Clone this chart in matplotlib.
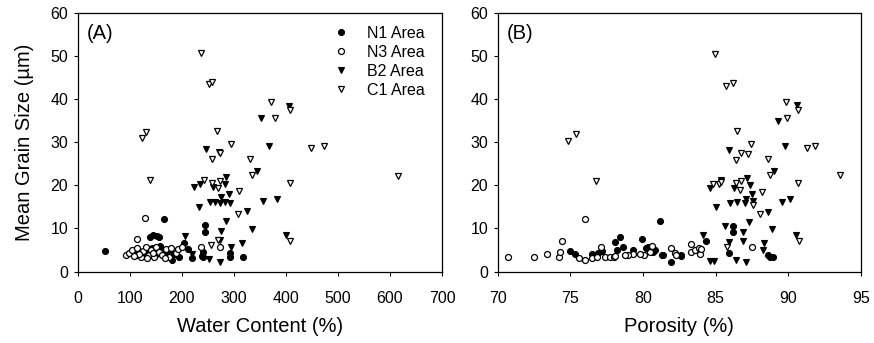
import matplotlib
matplotlib.use("Agg")
import matplotlib.pyplot as plt

plt.rcParams['font.family'] = ['Liberation Sans', 'DejaVu Sans']

# ---------------- Panel A : Water content vs mean grain size ----------------
a_n1_x = [52, 165, 138, 145, 152, 155, 125, 132, 142, 150, 158, 163, 170, 176, 185,
          195, 181, 203, 219, 240, 240, 244, 244, 292, 292, 318, 238, 212]
a_n1_y = [4.9, 12.1, 8.1, 8.5, 8.2, 8.0, 3.9, 4.6, 5.5, 4.2, 6.0, 4.5, 3.8, 5.0, 4.0,
          3.3, 2.7, 6.6, 3.1, 4.6, 3.5, 10.9, 9.2, 4.4, 3.5, 3.3, 3.7, 5.2]

a_n3_x = [92, 98, 104, 111, 114, 121, 126, 130, 137, 140, 146, 151, 156, 162, 169,
          175, 178, 188, 192, 201, 113, 128, 236, 273, 118, 133, 108, 145, 167]
a_n3_y = [3.9, 4.4, 5.0, 3.9, 5.4, 3.3, 4.9, 5.8, 3.9, 5.0, 3.5, 5.6, 4.5, 3.9, 5.2,
          3.5, 5.4, 4.4, 5.3, 5.6, 7.5, 12.4, 5.8, 5.6, 4.2, 3.1, 3.6, 4.4, 3.2]

a_b2_x = [224, 235, 283, 284, 260, 291, 276, 254, 263, 273, 283, 292, 356, 383, 233,
          326, 285, 275, 334, 401, 205, 273, 316, 252, 273, 247, 272, 352, 406, 368,
          344, 219, 294]
a_b2_y = [19.5, 20.4, 20.3, 21.9, 19.5, 18.1, 17.2, 16.2, 16.2, 15.8, 16.2, 16.0, 16.3, 16.9, 14.9,
          14.0, 11.7, 9.5, 9.8, 8.5, 8.3, 7.4, 6.6, 2.9, 2.3, 28.5, 27.7, 35.5, 38.3, 29.2,
          23.3, 4.0, 5.8]

a_c1_x = [236, 252, 258, 124, 130, 138, 267, 294, 274, 257, 330, 334, 372, 378, 408,
          449, 473, 616, 408, 408, 243, 257, 273, 269, 310, 308, 256, 270]
a_c1_y = [50.6, 43.4, 43.9, 30.9, 32.4, 21.2, 32.7, 29.6, 27.5, 26.0, 26.0, 22.5, 39.3, 35.6, 37.5,
          28.7, 29.0, 22.1, 20.6, 7.2, 21.2, 20.6, 21.0, 19.3, 18.6, 13.3, 6.2, 7.3]

# ---------------- Panel B : Porosity vs mean grain size ----------------
b_n1_x = [75.0, 75.3, 76.5, 78.4, 78.06, 78.6, 78.2, 79.9, 81.15, 80.35, 80.7, 81.3, 81.9, 82.6,
          84.35, 86.2, 86.2, 85.92, 88.6, 88.74, 88.94, 80.2, 80.8, 81.4, 82.6, 77.2, 76.9, 79.3]
b_n1_y = [4.8, 4.2, 4.2, 8.1, 6.9, 5.8, 5.0, 7.5, 11.8, 5.8, 4.6, 3.9, 2.3, 3.6,
          7.2, 10.6, 9.1, 4.4, 3.9, 3.3, 3.3, 5.4, 5.0, 3.9, 3.9, 4.8, 4.3, 5.1]

b_n3_x = [70.73, 72.5, 73.4, 74.2, 74.3, 74.4, 76.0, 75.6, 76.0, 76.5, 76.8, 77.1, 77.4, 77.7,
          78.0, 80.5, 80.1, 79.8, 79.3, 79.0, 78.75, 78.06, 81.95, 82.2, 82.3, 83.3, 83.6, 83.85,
          83.9, 80.6, 87.52, 83.3, 84.0]
b_n3_y = [3.3, 3.5, 4.2, 3.5, 4.5, 7.2, 12.1, 3.1, 2.7, 3.1, 3.3, 5.8, 3.3, 3.5,
          3.5, 4.6, 3.9, 4.2, 4.2, 3.9, 3.9, 3.6, 5.4, 4.4, 3.9, 4.6, 5.0, 5.4,
          4.2, 5.9, 5.6, 6.3, 5.2]

b_b2_x = [89.29, 85.92, 89.8, 89.0, 84.6, 85.4, 86.25, 87.15, 87.4, 87.5, 89.6, 90.15, 85.96, 86.5,
          87.0, 87.57, 87.1, 85.0, 88.6, 87.3, 85.67, 86.88, 88.87, 90.55, 84.13, 86.88, 85.92,
          88.32, 88.25, 86.43, 87.07, 84.6, 84.9, 90.6]
b_b2_y = [35.0, 28.3, 29.0, 23.3, 19.3, 21.2, 19.3, 21.7, 20.0, 17.9, 16.2, 16.9, 15.8, 16.2,
          15.9, 16.4, 16.9, 14.9, 13.9, 11.5, 10.6, 9.2, 9.8, 8.6, 8.5, 7.2, 6.8,
          6.6, 5.0, 2.7, 2.2, 2.4, 2.5, 38.5]

b_c1_x = [84.94, 85.69, 86.2, 89.86, 90.66, 89.9, 86.47, 87.46, 86.77, 87.23, 86.43, 91.28, 91.85,
          88.6, 88.74, 93.53, 90.66, 84.8, 85.2, 85.4, 86.4, 86.77, 86.7, 88.19, 87.57, 88.07,
          90.72, 85.78, 74.81, 75.38, 76.73]
b_c1_y = [50.4, 43.1, 43.6, 39.3, 37.5, 35.6, 32.5, 29.6, 27.5, 27.3, 25.8, 28.6, 29.1,
          26.0, 22.3, 22.3, 20.6, 20.2, 20.3, 20.8, 20.6, 21.0, 19.0, 18.5, 15.4, 13.3,
          7.2, 5.6, 30.3, 32.0, 20.9]

labels = ["N1 Area", "N3 Area", "B2 Area", "C1 Area"]
a_xticks = [0, 100, 200, 300, 400, 500, 600, 700]
b_xticks = [70, 75, 80, 85, 90, 95]
yticks = [0, 10, 20, 30, 40, 50, 60]

fig = plt.figure(figsize=(8.74, 3.43), dpi=100)
axA = fig.add_axes([0.0892, 0.208, 0.4165, 0.755])
axB = fig.add_axes([0.5695, 0.208, 0.4155, 0.755])

ms = 4.3
styles = [
    dict(marker='o', mfc='black', mec='black', mew=0.8),
    dict(marker='o', mfc='white', mec='black', mew=0.9),
    dict(marker='v', mfc='black', mec='black', mew=0.8),
    dict(marker='v', mfc='white', mec='black', mew=0.9),
]

def draw(ax, series):
    handles = []
    for (xs, ys), st, lab in zip(series, styles, labels):
        h, = ax.plot(xs, ys, linestyle='none', markersize=ms, label=lab, **st)
        handles.append(h)
    return handles

hA = draw(axA, [(a_n1_x, a_n1_y), (a_n3_x, a_n3_y), (a_b2_x, a_b2_y), (a_c1_x, a_c1_y)])
draw(axB, [(b_n1_x, b_n1_y), (b_n3_x, b_n3_y), (b_b2_x, b_b2_y), (b_c1_x, b_c1_y)])

axA.set_xlim(0, 700)
axB.set_xlim(70, 95)
for ax in (axA, axB):
    ax.set_ylim(0, 60)
    ax.set_yticks(yticks)
    ax.tick_params(direction='out', length=3, width=0.8, labelsize=11.5)
    ax.tick_params(axis='x', pad=11)
    ax.tick_params(axis='y', pad=4)
    for s in ax.spines.values():
        s.set_linewidth(0.9)
axA.set_xticks(a_xticks)
axB.set_xticks(b_xticks)

axA.set_xlabel("Water Content (%)", fontsize=14.5, labelpad=8)
axB.set_xlabel("Porosity (%)", fontsize=14.5, labelpad=8)
axA.set_ylabel("Mean Grain Size (\u00b5m)", fontsize=14.5, labelpad=12)

axA.text(0.025, 0.955, "(A)", transform=axA.transAxes, fontsize=14.5, va='top', ha='left')
axB.text(0.025, 0.955, "(B)", transform=axB.transAxes, fontsize=14.5, va='top', ha='left')

axA.legend(handles=hA, loc='upper right', bbox_to_anchor=(0.97, 0.975), frameon=False,
           fontsize=11.5, handlelength=1.0, handletextpad=1.1, labelspacing=0.25,
           borderaxespad=0.0, markerscale=1.0)

fig.savefig("out.png", dpi=100)
